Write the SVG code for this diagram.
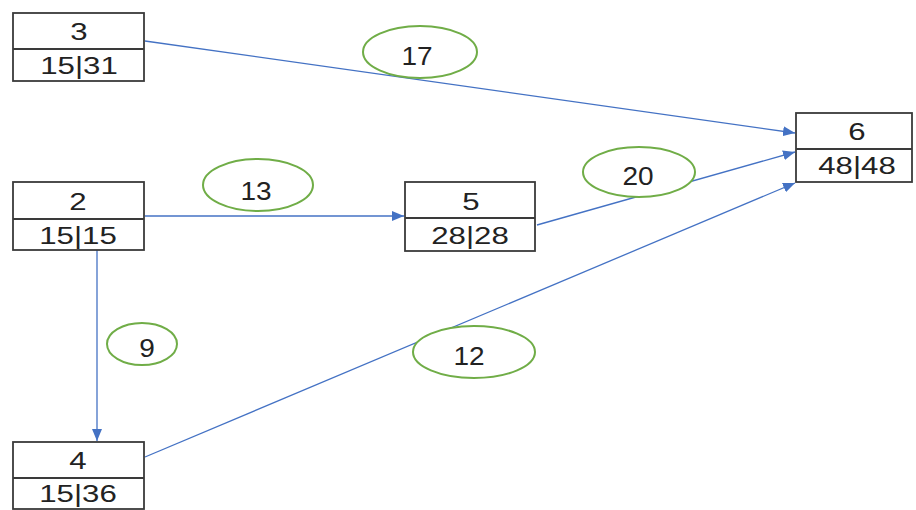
<svg xmlns="http://www.w3.org/2000/svg" width="916" height="510" viewBox="0 0 916 510">
  <defs>
    <style>
      .box { fill: #ffffff; stroke: #3a3a3a; stroke-width: 1.8; }
      .div { stroke: #3a3a3a; stroke-width: 1.8; }
      .t { font-family: "Liberation Sans", Arial, sans-serif; fill: #222222; text-anchor: middle; }
      .n { font-size: 24px; }
      .e { font-size: 25px; }
      .edge { stroke: #4472c4; stroke-width: 1.3; fill: none; marker-end: url(#arrow); }
      .lbl { fill: #ffffff; stroke: #70ad47; stroke-width: 2; }
    </style>
    <marker id="arrow" viewBox="0 0 12 10" refX="12" refY="5" markerWidth="12" markerHeight="10" markerUnits="userSpaceOnUse" orient="auto">
      <path d="M0,0 L12,5 L0,10 z" fill="#4472c4"/>
    </marker>
  </defs>
  <rect width="916" height="510" fill="#ffffff"/>

  <g id="connectors">
    <line class="edge" x1="145" y1="41" x2="795" y2="133"/>
    <line class="edge" x1="145" y1="216" x2="404" y2="216"/>
    <line class="edge" x1="537" y1="225" x2="795" y2="152"/>
    <line class="edge" x1="97" y1="250" x2="97" y2="441"/>
    <line class="edge" x1="145" y1="457" x2="795" y2="183"/>
  </g>

  <!-- duration labels: horizontally widened digits -->
  <g id="labels">
    <g id="label-17"><ellipse class="lbl" cx="420" cy="52" rx="57" ry="26"/><text class="t e" transform="translate(417,65) scale(1.12,1)">17</text></g>
    <g id="label-13"><ellipse class="lbl" cx="258" cy="185" rx="55" ry="26"/><text class="t e" transform="translate(256,200) scale(1.12,1)">13</text></g>
    <g id="label-20"><ellipse class="lbl" cx="639" cy="172" rx="56" ry="25"/><text class="t e" transform="translate(638,185) scale(1.12,1)">20</text></g>
    <g id="label-9"><ellipse class="lbl" cx="142" cy="344" rx="35" ry="21"/><text class="t e" transform="translate(147,357) scale(1.12,1)">9</text></g>
    <g id="label-12"><ellipse class="lbl" cx="474" cy="352" rx="61" ry="26"/><text class="t e" transform="translate(469,365) scale(1.12,1)">12</text></g>
  </g>

  <g id="node-3">
    <rect class="box" x="13" y="13" width="131" height="68"/>
    <line class="div" x1="13" y1="49" x2="144" y2="49"/>
    <text class="t n" transform="translate(79,40) scale(1.3,1)">3</text>
    <text class="t n" transform="translate(79,74) scale(1.3,1)">15|31</text>
  </g>
  <g id="node-2">
    <rect class="box" x="13" y="182" width="131" height="68"/>
    <line class="div" x1="13" y1="219" x2="144" y2="219"/>
    <text class="t n" transform="translate(78,210) scale(1.3,1)">2</text>
    <text class="t n" transform="translate(78,244) scale(1.3,1)">15|15</text>
  </g>
  <g id="node-5">
    <rect class="box" x="405" y="182" width="130" height="69"/>
    <line class="div" x1="405" y1="218" x2="535" y2="218"/>
    <text class="t n" transform="translate(471,210) scale(1.3,1)">5</text>
    <text class="t n" transform="translate(470,244) scale(1.3,1)">28|28</text>
  </g>
  <g id="node-6">
    <rect class="box" x="796" y="113" width="116" height="69"/>
    <line class="div" x1="796" y1="149" x2="912" y2="149"/>
    <text class="t n" transform="translate(857,140) scale(1.3,1)">6</text>
    <text class="t n" transform="translate(857,174) scale(1.3,1)">48|48</text>
  </g>
  <g id="node-4">
    <rect class="box" x="13" y="442" width="131" height="67"/>
    <line class="div" x1="13" y1="478" x2="144" y2="478"/>
    <text class="t n" transform="translate(78,469) scale(1.3,1)">4</text>
    <text class="t n" transform="translate(78,502) scale(1.3,1)">15|36</text>
  </g>
</svg>
